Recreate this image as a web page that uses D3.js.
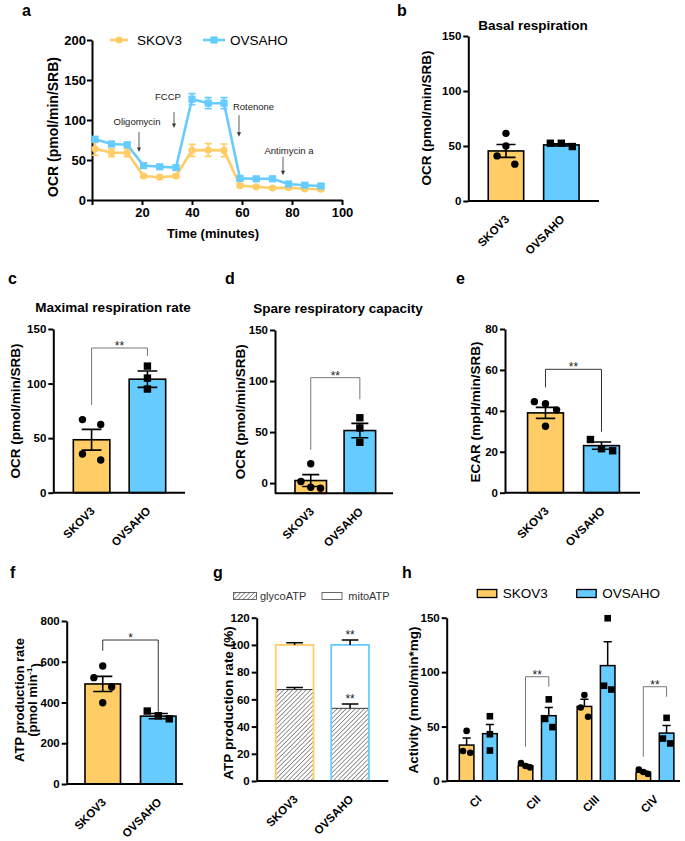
<!DOCTYPE html>
<html>
<head>
<meta charset="utf-8">
<script src="https://cdn.jsdelivr.net/npm/d3@7"></script>
<style>
  html,body{margin:0;padding:0;background:#fff;}
  svg{display:block;}
</style>
</head>
<body>
<svg id="fig" width="685" height="841"></svg>
<script>
// ---------------- data ----------------
const cellLines = ["SKOV3", "OVSAHO"];
const seriesColors = ["#FFCC66", "#66CCFF"];

// a: Seahorse OCR time course
const seahorseTimes = [1.2, 7.8, 14.1, 20.6, 27.1, 33.6, 40.0, 46.5, 52.8, 59.2, 65.7, 72.2, 78.6, 85.1, 91.6];
const skov3OCR     = [64, 59, 59, 30, 28.5, 30, 62, 62.5, 62, 18, 16.5, 15, 15.5, 14, 13.5];
const skov3OCRsem  = [8, 5, 5, 2, 1.5, 2, 7.5, 8, 8, 2, 1.5, 1.5, 1.5, 1.5, 1.5];
const ovsahoOCR    = [76, 70, 69, 43, 41.5, 40.5, 126, 121, 121, 27, 26.5, 26.5, 20, 18.5, 17.5];
const ovsahoOCRsem = [3, 2.5, 2.5, 3, 2, 2, 7, 7, 7, 2, 2, 2, 2, 2, 2];
const timeTicks = [0, 20, 40, 60, 80, 100];
const ocrTicksA = [0, 50, 100, 150, 200];
const injections = ["Oligomycin", "FCCP", "Rotenone", "Antimycin a"];
const injectionTimes = [18.8, 32.8, 58.8, 76.4];
const arrowTopOCR = [85, 110, 106, 54];
const arrowTipOCR = [60, 90, 79, 31];
const injLabelTimes = [18, 30.4, 64.6, 78.8];
const injLabelOCR = [94, 124.5, 113, 58];

// b: basal respiration
const basalMean = [45.5, 51];
const basalSem = [5.8, 1.0];
const basalSKOV3 = [61.5, 50, 41, 33.5];
const basalOVSAHO = [52.5, 52.5, 49.5];
const ocrTicks = [0, 50, 100, 150];

// c: maximal respiration
const maxMean = [48.5, 104];
const maxSem = [9.5, 7.5];
const maxSKOV3 = [67, 62.5, 35.5, 30];
const maxOVSAHO = [116, 105, 95];
const maxBracket = [132.6, 80.4, 125.3];

// d: spare respiratory capacity
const spareMean = [2.5, 51.5];
const spareSem = [5.8, 7];
const spareSKOV3 = [19, 1.5, -4, -5];
const spareOVSAHO = [64, 54, 40];
const spareBracket = [103.3, 32.6, 82.2];

// e: ECAR
const ecarMean = [39, 23];
const ecarSem = [2.7, 1.8];
const ecarSKOV3 = [44.5, 43.5, 40.5, 32.5];
const ecarOVSAHO = [26, 21.5, 20.5];
const ecarTicks = [0, 20, 40, 60, 80];
const ecarBracket = [60.3, 51.5, 29.8];

// f: ATP production rate
const atpMean = [491, 333];
const atpSem = [37, 13];
const atpSKOV3 = [579, 522, 476, 399];
const atpOVSAHO = [358, 335, 320];
const atpTicks = [0, 200, 400, 600, 800];
const atpBracket = [706.6, 654, 354.8];

// g: ATP production rate (%)
const glycoPct = [67.2, 53.4];
const glycoSem = [1.5, 3.2];
const mitoPct = [32.8, 46.6];
const totalSem = [1.6, 3.6];
const pctTicks = [0, 20, 40, 60, 80, 100, 120];
const pctSig = ["", "**"];

// h: complex activity
const complexes = ["CI", "CII", "CIII", "CIV"];
const actSKOV3Mean = [33, 14, 68.5, 8];
const actSKOV3Sem = [6.5, 1.2, 6.5, 1.3];
const actOVSAHOMean = [43.5, 60, 106, 44];
const actOVSAHOSem = [8.5, 7.5, 22, 7];
const actSKOV3Pts = [[46, 27.5, 26], [16.5, 13.8, 12.5], [79, 67.5, 59], [10.5, 8.3, 6.5]];
const actOVSAHOPts = [[59.5, 43, 28], [75, 57, 49.5], [149.5, 87.5, 84], [58, 39, 34.5]];
const actTicks = [0, 50, 100, 150];
const actBrackets = [null, [95.8, 31.5, 86.6], null, [86.6, 22.3, 77.4]];

// ---------------- drawing ----------------
const FONT = '"Liberation Sans", Arial, Helvetica, sans-serif';
const svg = d3.select("#fig").attr("font-family", FONT);

function styleAxis(ax, fs) {
  ax.attr("font-family", FONT).attr("font-size", fs).attr("font-weight", "bold");
  ax.select(".domain").attr("stroke", "#000").attr("stroke-width", 2);
  ax.selectAll(".tick line").attr("stroke", "#000").attr("stroke-width", 2);
  ax.selectAll(".tick text").attr("fill", "#000");
}

function yTitle(g, text, x, yc, fs) {
  g.append("text").attr("transform", `translate(${x},${yc}) rotate(-90)`)
    .attr("text-anchor", "middle").attr("dy", "0.35em")
    .attr("font-size", fs || 13.5).attr("font-weight", "bold").text(text);
}

function panelLetter(t, x, y) {
  svg.append("text").attr("x", x).attr("y", y).attr("font-size", 16)
    .attr("font-weight", "bold").text(t);
}

function swarmOffsets(vals, y, bw) {
  const idx = vals.map((v, i) => i).sort((a, b) => y(vals[a]) - y(vals[b]));
  const offs = new Array(vals.length).fill(0);
  let cluster = [idx[0]];
  const flush = () => {
    const k = cluster.length;
    if (k > 1) {
      const spread = bw * (k === 2 ? 0.5 : 0.62);
      cluster.forEach((id, j) => { offs[id] = -spread / 2 + spread * j / (k - 1); });
    }
  };
  for (let j = 1; j < idx.length; j++) {
    if (y(vals[idx[j]]) - y(vals[idx[j - 1]]) < 9.6) cluster.push(idx[j]);
    else { flush(); cluster = [idx[j]]; }
  }
  flush();
  return offs;
}

function drawPoints(g, vals, cx, y, bw, shape, r) {
  const offs = swarmOffsets(vals, y, bw);
  vals.forEach((v, i) => {
    if (shape === "circle") {
      g.append("circle").attr("cx", cx + offs[i]).attr("cy", y(v)).attr("r", r).attr("fill", "#000");
    } else {
      g.append("rect").attr("x", cx + offs[i] - r).attr("y", y(v) - r)
        .attr("width", 2 * r).attr("height", 2 * r).attr("fill", "#000");
    }
  });
}

function bracket(g, x1, x2, y, b, label, color, fs) {
  const yt = y(b[0]);
  g.append("path").attr("d", `M${x1},${y(b[1])}V${yt}H${x2}V${y(b[2])}`)
    .attr("fill", "none").attr("stroke", color || "#555").attr("stroke-width", 1);
  g.append("text").attr("x", (x1 + x2) / 2).attr("y", yt + 2).attr("text-anchor", "middle")
    .attr("font-size", fs || 12).attr("fill", "#222").text(label);
}

function xLabels(g, labels, xs, base, fs) {
  labels.forEach((t, i) => {
    g.append("text").attr("transform", `translate(${xs[i] + 4},${base + 19}) rotate(-45)`)
      .attr("text-anchor", "end").attr("font-size", fs || 11.5).attr("font-weight", "bold").text(t);
  });
}

// ---------- panel a ----------
(function () {
  const g = svg.append("g");
  const x = d3.scaleLinear().domain([0, 100]).range([92, 342]);
  const y = d3.scaleLinear().domain([0, 200]).range([200, 40]);
  const ax = g.append("g").attr("transform", "translate(92,0)")
    .call(d3.axisLeft(y).tickValues(ocrTicksA).tickSize(5).tickPadding(1).tickSizeOuter(0));
  styleAxis(ax, 13);
  const bx = g.append("g").attr("transform", "translate(0,200)")
    .call(d3.axisBottom(x).tickValues(timeTicks).tickFormat(d => d === 0 ? "" : d).tickSize(5).tickPadding(3).tickSizeOuter(0));
  styleAxis(bx, 13);

  const series = [
    { vals: skov3OCR, sem: skov3OCRsem, color: seriesColors[0], shape: "circle" },
    { vals: ovsahoOCR, sem: ovsahoOCRsem, color: seriesColors[1], shape: "square" }
  ];
  const line = d3.line().x((d, i) => x(seahorseTimes[i])).y(d => y(d));
  series.forEach(s => {
    g.append("path").attr("d", line(s.vals)).attr("fill", "none").attr("stroke", s.color).attr("stroke-width", 2.6);
    s.vals.forEach((v, i) => {
      const cx = x(seahorseTimes[i]), hi = y(v + s.sem[i]), lo = y(v - s.sem[i]);
      g.append("path").attr("d", `M${cx},${lo}V${hi}M${cx - 3.5},${hi}H${cx + 3.5}M${cx - 3.5},${lo}H${cx + 3.5}`)
        .attr("stroke", s.color).attr("stroke-width", 1.6).attr("fill", "none");
      if (s.shape === "circle") g.append("circle").attr("cx", cx).attr("cy", y(v)).attr("r", 3.6).attr("fill", s.color);
      else g.append("rect").attr("x", cx - 3.6).attr("y", y(v) - 3.6).attr("width", 7.2).attr("height", 7.2).attr("fill", s.color);
    });
  });

  // injection annotations
  injections.forEach((t, i) => {
    const ax_ = x(injectionTimes[i]), y1 = y(arrowTopOCR[i]), y2 = y(arrowTipOCR[i]);
    g.append("line").attr("x1", ax_).attr("x2", ax_).attr("y1", y1).attr("y2", y2 - 3)
      .attr("stroke", "#333").attr("stroke-width", 0.8);
    g.append("path").attr("d", `M${ax_ - 2},${y2 - 4.5}L${ax_ + 2},${y2 - 4.5}L${ax_},${y2}Z`).attr("fill", "#333");
    g.append("text").attr("x", x(injLabelTimes[i])).attr("y", y(injLabelOCR[i]))
      .attr("text-anchor", "middle").attr("font-size", 9.5).attr("fill", "#222").text(t);
  });

  // legend
  const leg = [[110, 128, 137], [203, 225, 230]];
  series.forEach((s, i) => {
    const [l1, l2, tx] = leg[i];
    g.append("line").attr("x1", l1).attr("x2", l2).attr("y1", 40).attr("y2", 40).attr("stroke", s.color).attr("stroke-width", 2.6);
    const cx = (l1 + l2) / 2;
    if (s.shape === "circle") g.append("circle").attr("cx", cx).attr("cy", 40).attr("r", 3.6).attr("fill", s.color);
    else g.append("rect").attr("x", cx - 3.6).attr("y", 36.4).attr("width", 7.2).attr("height", 7.2).attr("fill", s.color);
    g.append("text").attr("x", tx).attr("y", 45).attr("font-size", 13.5).text(cellLines[i]);
  });

  yTitle(g, "OCR (pmol/min/SRB)", 53, 127, 14);
  g.append("text").attr("x", 213).attr("y", 238).attr("text-anchor", "middle")
    .attr("font-size", 13).attr("font-weight", "bold").text("Time (minutes)");
})();

// ---------- generic bar panel ----------
function barPanel(cfg) {
  const g = svg.append("g");
  const y = d3.scaleLinear().domain(cfg.domain).range([cfg.yBot, cfg.yTop]);
  const x = d3.scaleBand().domain(cellLines).range(cfg.band).paddingInner(cfg.pad).paddingOuter(cfg.pad);
  const bw = x.bandwidth();
  const base = y(cfg.domain[0]);
  g.selectAll("rect.bar").data(cellLines).join("rect").attr("class", "bar")
    .attr("x", c => x(c)).attr("width", bw)
    .attr("y", (c, i) => y(cfg.mean[i])).attr("height", (c, i) => base - y(cfg.mean[i]))
    .attr("fill", (c, i) => seriesColors[i]).attr("stroke", "#000").attr("stroke-width", 1.6);
  cellLines.forEach((c, i) => {
    const cx = x(c) + bw / 2, m = cfg.mean[i], s = cfg.sem[i];
    const hi = y(m + s), lo = Math.min(base, y(m - s)), cw = bw * 0.27;
    g.append("path").attr("d", `M${cx},${lo}V${hi}M${cx - cw},${hi}H${cx + cw}` + (lo < base ? `M${cx - cw},${lo}H${cx + cw}` : ""))
      .attr("stroke", "#000").attr("stroke-width", 1.6).attr("fill", "none");
  });
  cfg.points.forEach((pts, i) => drawPoints(g, pts, x(cellLines[i]) + bw / 2, y, bw, i === 0 ? "circle" : "square", 3.7));
  const ax = g.append("g").attr("transform", `translate(${cfg.x0},0)`)
    .call(d3.axisLeft(y).tickValues(cfg.ticks).tickSize(5).tickPadding(2).tickSizeOuter(0));
  styleAxis(ax, 11.5);
  g.append("line").attr("x1", cfg.x0).attr("x2", cfg.x1).attr("y1", base).attr("y2", base)
    .attr("stroke", "#000").attr("stroke-width", 2);
  xLabels(g, cellLines, cellLines.map(c => x(c) + bw / 2), base, 11.5);
  if (cfg.title) g.append("text").attr("x", cfg.title[1]).attr("y", cfg.title[2]).attr("text-anchor", "middle")
    .attr("font-size", 13.5).attr("font-weight", "bold").text(cfg.title[0]);
  if (cfg.ytitle2) {
    g.append("text").attr("transform", `translate(${cfg.ytitle[1]},${cfg.ytitle[2]}) rotate(-90)`)
      .attr("text-anchor", "middle").attr("dy", "0.35em").attr("font-size", 13).attr("font-weight", "bold").text(cfg.ytitle[0]);
    const t2 = g.append("text").attr("transform", `translate(${cfg.ytitle2[0]},${cfg.ytitle[2]}) rotate(-90)`)
      .attr("text-anchor", "middle").attr("dy", "0.35em").attr("font-size", 13).attr("font-weight", "bold");
    t2.append("tspan").text("(pmol min");
    t2.append("tspan").attr("font-size", 8).attr("dy", "-0.6em").text("-1");
    t2.append("tspan").attr("dy", "0.6em").text(")");
  } else {
    yTitle(g, cfg.ytitle[0], cfg.ytitle[1], cfg.ytitle[2], 13.5);
  }
  if (cfg.bracket) bracket(g, x(cellLines[0]) + bw / 2, x(cellLines[1]) + bw / 2, y, cfg.bracket, cfg.sig, cfg.bracketColor);
}

barPanel({ domain: [0, 150], yTop: 36, yBot: 201, x0: 468.3, x1: 599, band: [468.3, 599], pad: 0.36,
  mean: basalMean, sem: basalSem, points: [basalSKOV3, basalOVSAHO], ticks: ocrTicks,
  title: ["Basal respiration", 533, 30], ytitle: ["OCR (pmol/min/SRB)", 426.7, 118] });

barPanel({ domain: [0, 150], yTop: 329, yBot: 492.7, x0: 53.3, x1: 185, band: [54, 185], pad: 0.346,
  mean: maxMean, sem: maxSem, points: [maxSKOV3, maxOVSAHO], ticks: ocrTicks,
  title: ["Maximal respiration rate", 113, 311.5], ytitle: ["OCR (pmol/min/SRB)", 15, 411],
  bracket: maxBracket, sig: "**", bracketColor: "#777" });

barPanel({ domain: [-10, 150], yTop: 330, yBot: 493.3, x0: 275, x1: 393, band: [277.4, 393.2], pad: 0.358,
  mean: spareMean, sem: spareSem, points: [spareSKOV3, spareOVSAHO], ticks: ocrTicks,
  title: ["Spare respiratory capacity", 338, 313], ytitle: ["OCR (pmol/min/SRB)", 240, 411.7],
  bracket: spareBracket, sig: "**", bracketColor: "#777" });

barPanel({ domain: [0, 80], yTop: 329, yBot: 492.7, x0: 505, x1: 640, band: [507.4, 639.6], pad: 0.36,
  mean: ecarMean, sem: ecarSem, points: [ecarSKOV3, ecarOVSAHO], ticks: ecarTicks,
  ytitle: ["ECAR (mpH/min/SRB)", 475, 412],
  bracket: ecarBracket, sig: "**", bracketColor: "#333" });

barPanel({ domain: [0, 800], yTop: 621, yBot: 784, x0: 66.7, x1: 183, band: [65, 196], pad: 0.36,
  mean: atpMean, sem: atpSem, points: [atpSKOV3, atpOVSAHO], ticks: atpTicks,
  ytitle: ["ATP production rate", 19.5, 700], ytitle2: [32.5],
  bracket: atpBracket, sig: "*", bracketColor: "#333" });

// ---------- panel g ----------
(function () {
  const defs = svg.append("defs");
  const pat = defs.append("pattern").attr("id", "hatch").attr("patternUnits", "userSpaceOnUse")
    .attr("width", 3.2).attr("height", 3.2).attr("patternTransform", "rotate(45)");
  pat.append("rect").attr("width", 3.2).attr("height", 3.2).attr("fill", "#fff");
  pat.append("line").attr("x1", 0).attr("y1", 0).attr("x2", 0).attr("y2", 3.2).attr("stroke", "#444").attr("stroke-width", 1.1);

  const g = svg.append("g");
  const y = d3.scaleLinear().domain([0, 120]).range([781, 617.7]);
  const x = d3.scaleBand().domain(cellLines).range([258, 386.7]).paddingInner(0.319).paddingOuter(0.319);
  const bw = x.bandwidth(), base = y(0);
  cellLines.forEach((c, i) => {
    const bx = x(c), cx = bx + bw / 2;
    g.append("rect").attr("x", bx).attr("width", bw).attr("y", y(glycoPct[i])).attr("height", base - y(glycoPct[i])).attr("fill", "url(#hatch)");
    g.append("rect").attr("x", bx).attr("width", bw).attr("y", y(glycoPct[i] + mitoPct[i])).attr("height", y(glycoPct[i]) - y(glycoPct[i] + mitoPct[i])).attr("fill", "#fff");
    g.append("rect").attr("x", bx).attr("width", bw).attr("y", y(glycoPct[i] + mitoPct[i])).attr("height", base - y(glycoPct[i] + mitoPct[i]))
      .attr("fill", "none").attr("stroke", seriesColors[i]).attr("stroke-width", 1.8);
    const cw = bw * 0.22;
    const e1 = y(glycoPct[i] + glycoSem[i]), e2 = y(glycoPct[i] + mitoPct[i] + totalSem[i]);
    g.append("path").attr("d", `M${cx},${y(glycoPct[i])}V${e1}M${cx - cw},${e1}H${cx + cw}`).attr("stroke", "#000").attr("stroke-width", 1.6).attr("fill", "none");
    g.append("line").attr("x1", bx + 1).attr("x2", bx + bw - 1).attr("y1", y(glycoPct[i])).attr("y2", y(glycoPct[i])).attr("stroke", "#333").attr("stroke-width", 1);
    g.append("path").attr("d", `M${cx},${y(glycoPct[i] + mitoPct[i])}V${e2}M${cx - cw},${e2}H${cx + cw}`).attr("stroke", "#000").attr("stroke-width", 1.6).attr("fill", "none");
    if (pctSig[i]) {
      g.append("text").attr("x", cx).attr("y", e1 - 1).attr("text-anchor", "middle").attr("font-size", 12).attr("fill", "#222").text(pctSig[i]);
      g.append("text").attr("x", cx).attr("y", e2 - 1).attr("text-anchor", "middle").attr("font-size", 12).attr("fill", "#222").text(pctSig[i]);
    }
  });
  const ax = g.append("g").attr("transform", "translate(256.7,0)")
    .call(d3.axisLeft(y).tickValues(pctTicks).tickSize(5).tickPadding(2).tickSizeOuter(0));
  styleAxis(ax, 11.5);
  g.append("line").attr("x1", 256.7).attr("x2", 388.3).attr("y1", base).attr("y2", base).attr("stroke", "#000").attr("stroke-width", 2);
  xLabels(g, cellLines, cellLines.map(c => x(c) + bw / 2), base, 11.5);
  yTitle(g, "ATP production rate (%)", 228, 703, 13.5);
  // legend
  g.append("rect").attr("x", 233.5).attr("y", 592.5).attr("width", 23).attr("height", 7).attr("fill", "url(#hatch)").attr("stroke", "#444").attr("stroke-width", 0.8);
  g.append("text").attr("x", 260).attr("y", 600).attr("font-size", 11).attr("fill", "#333").text("glycoATP");
  g.append("rect").attr("x", 322).attr("y", 592.5).attr("width", 20).attr("height", 7).attr("fill", "#fff").attr("stroke", "#444").attr("stroke-width", 0.8);
  g.append("text").attr("x", 348.3).attr("y", 600).attr("font-size", 11).attr("fill", "#333").text("mitoATP");
})();

// ---------- panel h ----------
(function () {
  const g = svg.append("g");
  const y = d3.scaleLinear().domain([0, 150]).range([781, 617.7]);
  const x0 = d3.scaleBand().domain(complexes).range([438.3, 694.9]).paddingInner(0.357).paddingOuter(0.357);
  const x1 = d3.scaleBand().domain(cellLines).range([0, x0.bandwidth()]).paddingInner(0.373);
  const bw = x1.bandwidth(), base = y(0);
  const means = [actSKOV3Mean, actOVSAHOMean], sems = [actSKOV3Sem, actOVSAHOSem], pts = [actSKOV3Pts, actOVSAHOPts];
  complexes.forEach((cx_, k) => {
    cellLines.forEach((c, i) => {
      const bx = x0(cx_) + x1(c), cx = bx + bw / 2, m = means[i][k], s = sems[i][k];
      g.append("rect").attr("x", bx).attr("width", bw).attr("y", y(m)).attr("height", base - y(m))
        .attr("fill", seriesColors[i]).attr("stroke", "#000").attr("stroke-width", 1.5);
      const hi = y(m + s), cw = bw * 0.28;
      g.append("path").attr("d", `M${cx},${y(m)}V${hi}M${cx - cw},${hi}H${cx + cw}`).attr("stroke", "#000").attr("stroke-width", 1.5).attr("fill", "none");
      drawPoints(g, pts[i][k], cx, y, bw, i === 0 ? "circle" : "square", 3.3);
    });
    if (actBrackets[k]) {
      const xa = x0(cx_) + x1(cellLines[0]) + bw / 2, xb = x0(cx_) + x1(cellLines[1]) + bw / 2;
      bracket(g, xa, xb, y, actBrackets[k], "**", "#777");
    }
  });
  const ax = g.append("g").attr("transform", "translate(446.7,0)")
    .call(d3.axisLeft(y).tickValues(actTicks).tickSize(5).tickPadding(2).tickSizeOuter(0));
  styleAxis(ax, 11.5);
  g.append("line").attr("x1", 446.7).attr("x2", 680).attr("y1", base).attr("y2", base).attr("stroke", "#000").attr("stroke-width", 2);
  xLabels(g, complexes, complexes.map(c => x0(c) + x0.bandwidth() / 2), base, 11.5);
  yTitle(g, "Activity (nmol/min*mg)", 413.3, 700, 13.5);
  // legend
  const leg = [[477.3, 502.7], [576.7, 602.3]];
  cellLines.forEach((c, i) => {
    g.append("rect").attr("x", leg[i][0]).attr("y", 589.5).attr("width", 19.5).attr("height", 8)
      .attr("fill", seriesColors[i]).attr("stroke", "#000").attr("stroke-width", 1.3);
    g.append("text").attr("x", leg[i][1]).attr("y", 598).attr("font-size", 13.5).text(c);
  });
})();

// panel letters
panelLetter("a", 22, 16);
panelLetter("b", 397, 16);
panelLetter("c", 8, 284);
panelLetter("d", 225, 284);
panelLetter("e", 456, 284);
panelLetter("f", 10, 578);
panelLetter("g", 213, 578);
panelLetter("h", 402, 578);
</script>
</body>
</html>
